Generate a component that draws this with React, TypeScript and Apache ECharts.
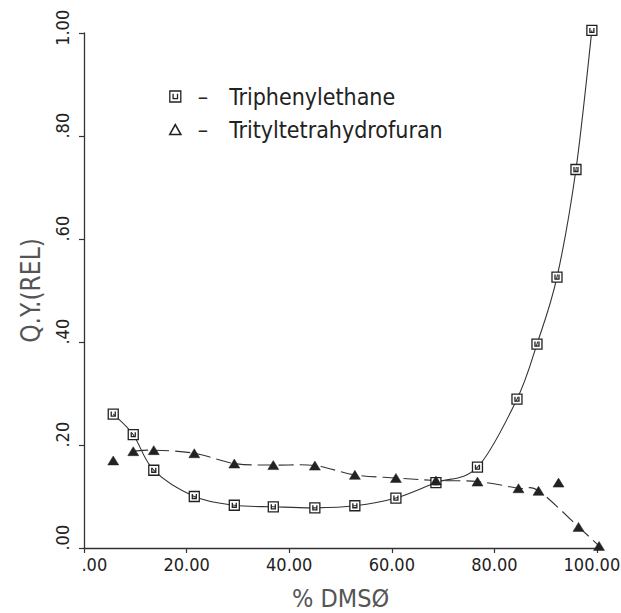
import React, { useEffect, useRef } from 'react';
import * as echarts from 'echarts';

// % DMSO values for each measured point
const dmsoTriphenylethane = [5.7, 9.6, 13.6, 21.5, 29.3, 36.9, 45.0, 52.8, 60.8, 68.6, 76.7, 84.4, 88.3, 92.2, 95.9, 99.0];
const qyTriphenylethane = [0.260, 0.220, 0.151, 0.100, 0.083, 0.080, 0.078, 0.082, 0.097, 0.127, 0.157, 0.289, 0.396, 0.526, 0.735, 1.005];

const dmsoTrityl = [5.7, 9.6, 13.6, 21.5, 29.3, 36.9, 45.0, 52.8, 60.8, 68.6, 76.7, 84.7, 88.6, 92.5, 96.4, 100.4];
const qyTrityl = [0.170, 0.188, 0.190, 0.184, 0.164, 0.161, 0.160, 0.142, 0.136, 0.131, 0.129, 0.116, 0.111, 0.127, 0.041, 0.004];

// points left off the drawn fit curve of the trityl series
const tritylOffCurve = [0, 13];

const seriesNames = ['Triphenylethane', 'Trityltetrahydrofuran'];
const xTitle = '% DMSØ';
const yTitle = 'Q.Y.(REL)';

const FONT = '"DejaVu Sans Condensed", "DejaVu Sans", sans-serif';
const INK = '#222';

function splinePath(pts: number[][]): string {
  // Catmull-Rom spline through pixel points, as cubic Bezier segments
  if (pts.length < 2) return '';
  let d = `M${pts[0][0]},${pts[0][1]}`;
  for (let i = 0; i < pts.length - 1; i++) {
    const p0 = pts[i - 1] || pts[i];
    const p1 = pts[i];
    const p2 = pts[i + 1];
    const p3 = pts[i + 2] || p2;
    const c1x = p1[0] + (p2[0] - p0[0]) / 6;
    const c1y = p1[1] + (p2[1] - p0[1]) / 6;
    const c2x = p2[0] - (p3[0] - p1[0]) / 6;
    const c2y = p2[1] - (p3[1] - p1[1]) / 6;
    d += ` C${c1x},${c1y} ${c2x},${c2y} ${p2[0]},${p2[1]}`;
  }
  return d;
}

export default function App() {
  const ref = useRef<HTMLDivElement>(null);

  useEffect(() => {
    if (!ref.current) return;
    const chart = echarts.init(ref.current, null, { renderer: 'svg' });

    const sqPath = 'path://M0,0H10V10H0Z M3,2.5V7H7V2.5';
    const triOutline = 'path://M5,0L10,9H0Z';

    const triPts = dmsoTriphenylethane.map((x, i) => [x, qyTriphenylethane[i]]);
    const trtPts = dmsoTrityl.map((x, i) => [x, qyTrityl[i]]);
    const trtCurve = trtPts.filter((_, i) => !tritylOffCurve.includes(i));

    const lblBase = { fontSize: 18, fontFamily: FONT, color: INK };

    const curveSeries = (name: string, pts: number[][], dash: number[] | null) => ({
      name,
      type: 'custom',
      data: pts,
      silent: true,
      z: 1,
      encode: { x: 0, y: 1 },
      renderItem: (params: any, api: any) => {
        if (params.dataIndex !== 0) return null;
        const px = pts.map((p) => api.coord(p));
        return {
          type: 'path',
          shape: { pathData: splinePath(px) },
          style: {
            fill: 'none',
            stroke: '#333',
            lineWidth: 1.1,
            lineDash: dash || undefined,
          },
        };
      },
    });

    const option: any = {
      animation: false,
      backgroundColor: '#fff',
      grid: { left: 84, right: 24, top: 33, bottom: 65, containLabel: false, outerBoundsMode: 'none' },
      legend: {
        left: 164,
        top: 80,
        orient: 'vertical',
        itemWidth: 11,
        itemHeight: 11,
        itemGap: 10,
        selectedMode: false,
        data: [
          { name: seriesNames[0], icon: sqPath, itemStyle: { color: 'rgba(0,0,0,0)', borderColor: INK, borderWidth: 1.3 } },
          { name: seriesNames[1], icon: triOutline, itemStyle: { color: 'rgba(0,0,0,0)', borderColor: INK, borderWidth: 1.6 } },
        ],
        formatter: (name: string) => `{d|–}{n|${name}}`,
        textStyle: {
          fontSize: 23,
          fontFamily: FONT,
          color: INK,
          rich: {
            d: { fontSize: 23, fontFamily: FONT, color: INK, padding: [0, 21, 0, 12] },
            n: { fontSize: 23, fontFamily: FONT, color: INK },
          },
        },
      },
      xAxis: {
        type: 'value',
        min: 0,
        max: 100,
        interval: 20,
        name: xTitle,
        nameLocation: 'middle',
        nameGap: 38,
        nameTextStyle: { fontSize: 25, fontFamily: FONT, color: '#555' },
        axisLine: { show: true, onZero: false, lineStyle: { color: '#333', width: 1.3 } },
        axisTick: { show: true, length: 5, lineStyle: { color: '#333', width: 1.2 } },
        splitLine: { show: false },
        axisLabel: {
          margin: 7,
          ...lblBase,
          formatter: (v: number) => {
            const s = v.toFixed(2).replace(/^0\./, '.');
            if (v === 0) return `{l|${s}}`;
            if (v === 100) return `{r|${s}}`;
            return `{c|${s}}`;
          },
          rich: {
            c: { ...lblBase },
            l: { ...lblBase, padding: [0, 0, 0, 20.6] },
            r: { ...lblBase, padding: [0, 10.3, 0, 0] },
          },
        },
      },
      yAxis: {
        type: 'value',
        min: 0,
        max: 1,
        interval: 0.2,
        name: yTitle,
        nameLocation: 'middle',
        nameRotate: 90,
        nameGap: 40,
        nameTextStyle: { fontSize: 26, fontFamily: FONT, color: '#555' },
        axisLine: { show: true, onZero: false, lineStyle: { color: '#333', width: 1.3 } },
        axisTick: { show: true, length: 5, lineStyle: { color: '#333', width: 1.2 } },
        splitLine: { show: false },
        axisLabel: {
          rotate: 90,
          margin: 13,
          align: 'center',
          verticalAlign: 'bottom',
          ...lblBase,
          formatter: (v: number) => {
            const s = v.toFixed(2).replace(/^0\./, '.');
            if (v >= 1) return `{o|${s}}`;
            return `{z|${s}}`;
          },
          rich: {
            z: { ...lblBase, padding: [0, 0, 0, 20.6] },
            o: { ...lblBase, padding: [0, 0, 0, 10.3] },
          },
        },
      },
      series: [
        curveSeries('Triphenylethane fit', triPts, null),
        curveSeries('Trityltetrahydrofuran fit', trtCurve, [15, 6]),
        {
          name: seriesNames[0],
          type: 'scatter',
          data: triPts,
          symbol: sqPath,
          symbolSize: 10,
          clip: false,
          z: 3,
          itemStyle: { color: '#fff', borderColor: INK, borderWidth: 1.3, opacity: 1 },
        },
        {
          name: seriesNames[1],
          type: 'scatter',
          data: trtPts,
          symbol: 'triangle',
          symbolSize: [11, 9],
          clip: false,
          z: 3,
          itemStyle: { color: INK, borderColor: INK, borderWidth: 0.5, opacity: 1 },
        },
      ],
    };

    chart.setOption(option);
    return () => chart.dispose();
  }, []);

  return (
    <div
      ref={ref}
      style={{ position: 'absolute', left: 0, top: 0, width: 621, height: 613, background: '#fff' }}
    />
  );
}
